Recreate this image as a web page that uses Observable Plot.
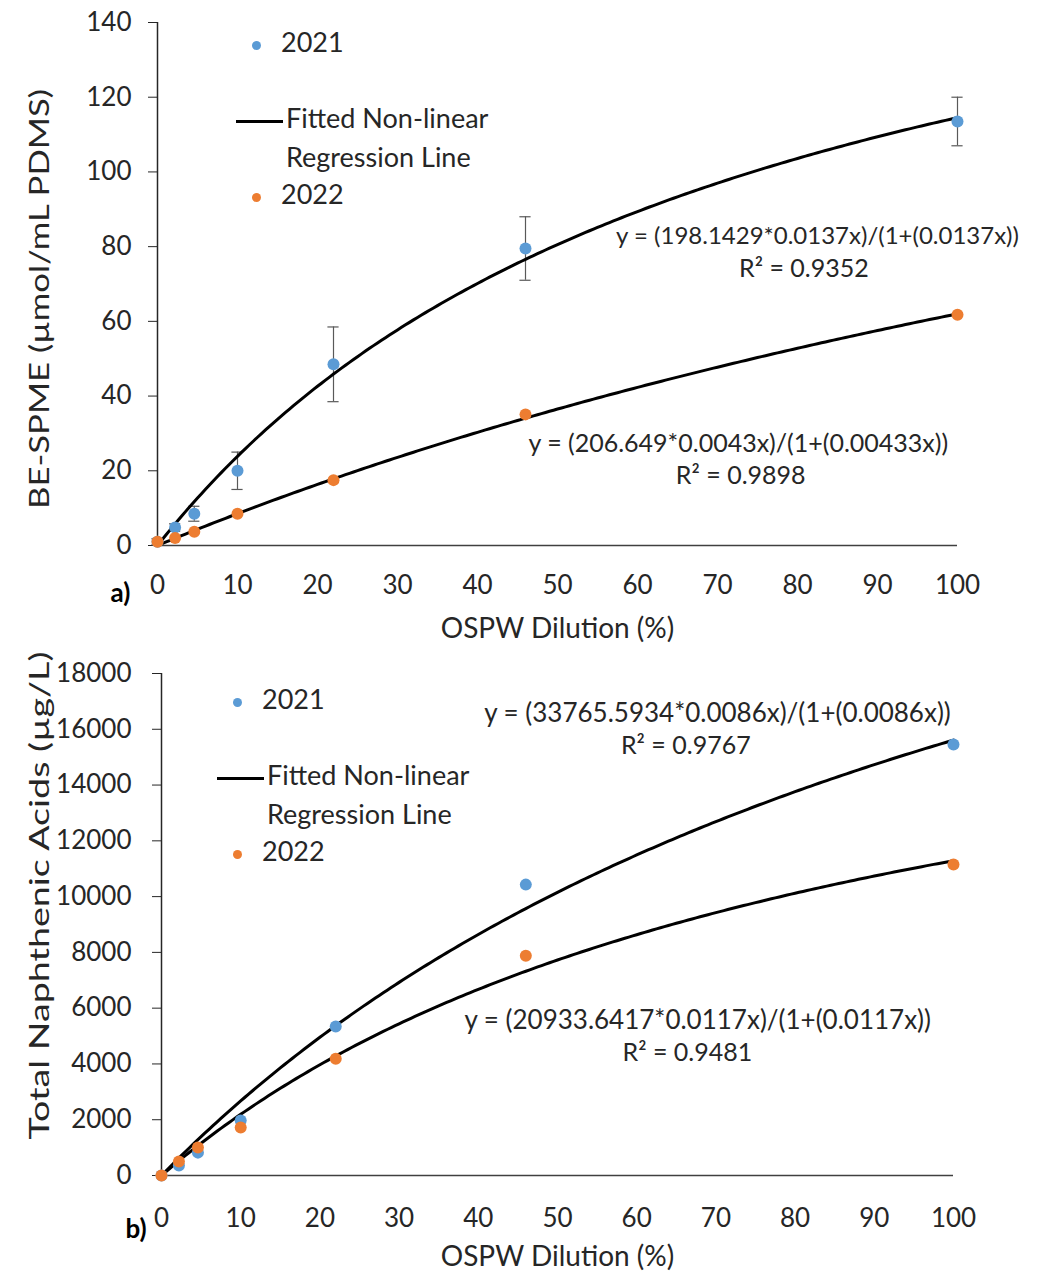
<!DOCTYPE html>
<html><head><meta charset="utf-8">
<script src="https://cdn.jsdelivr.net/npm/d3@7"></script>
<script src="https://cdn.jsdelivr.net/npm/@observablehq/plot@0.6"></script>
<style>
body{margin:0;background:#fff;font-family:Lato,"Noto Sans",sans-serif;}
#wrap{position:relative;width:1043px;height:1272px;overflow:hidden}
.plot{position:absolute;left:0}
.leg{position:absolute;font-size:27px;color:#262626;line-height:39px;white-space:nowrap}
.dot{display:inline-block;width:9px;height:9px;border-radius:50%;vertical-align:middle;margin-right:20px}
.ln{display:inline-block;width:47px;height:3px;background:#000;vertical-align:middle;margin-right:3px}
</style>
</head><body><div id="wrap"></div>
<script>
// ---- data ----
const dilution = [0, 2.2, 4.6, 10, 22, 46, 100];
const speme2021 = [1, 4.8, 8.5, 20, 48.5, 79.5, 113.5];
const speme2021Err = [0.8, 1, 2, 5, 10, 8.5, 6.5];
const speme2022 = [1, 2, 3.7, 8.5, 17.5, 35.1, 61.8];
const na2021 = [0, 360, 820, 1970, 5340, 10430, 15450];
const na2022 = [0, 500, 1000, 1720, 4190, 7880, 11150];
const xTicks = [0, 10, 20, 30, 40, 50, 60, 70, 80, 90, 100];
const yTicksA = [0, 20, 40, 60, 80, 100, 120, 140];
const yTicksB = [0, 2000, 4000, 6000, 8000, 10000, 12000, 14000, 16000, 18000];
// fitted equations as printed on the chart: y = (a*b*x)/(1+c*x)
const fitA2021 = {a: 198.1429, b: 0.0137, c: 0.0137, eq: "y = (198.1429*0.0137x)/(1+(0.0137x))", r2: "R² = 0.9352"};
const fitA2022 = {a: 206.649, b: 0.0043, c: 0.00433, eq: "y = (206.649*0.0043x)/(1+(0.00433x))", r2: "R² = 0.9898"};
const fitB2021 = {a: 33765.5934, b: 0.0086, c: 0.0086, eq: "y = (33765.5934*0.0086x)/(1+(0.0086x))", r2: "R² = 0.9767"};
const fitB2022 = {a: 20933.6417, b: 0.0117, c: 0.0117, eq: "y = (20933.6417*0.0117x)/(1+(0.0117x))", r2: "R² = 0.9481"};

const BLUE = "#5B9BD5", ORANGE = "#ED7D31";
const curve = f => d3.range(0, 100.001, 0.5).map(x => ({x, y: f.a * f.b * x / (1 + f.c * x)}));
const pts = ys => dilution.map((x, i) => ({x, y: ys[i]}));
const errs = dilution.map((x, i) => ({x, y: speme2021[i], lo: speme2021[i] - speme2021Err[i], hi: speme2021[i] + speme2021Err[i]}));

const font = "Lato, 'Noto Sans', sans-serif";

function panel(o) {
  const svg = Plot.plot({
    width: 1043, height: 636,
    marginLeft: o.ml, marginRight: o.mr, marginTop: o.mt, marginBottom: o.mb,
    x: {domain: [0, 100]},
    y: {domain: o.ydom},
    style: {fontFamily: font, fontSize: "26px", color: "#262626", background: "transparent", overflow: "visible"},
    marks: [
      Plot.axisX({ticks: xTicks, tickSize: 0, tickPadding: o.xpad, fontSize: 26, label: null, fill: "#262626"}),
      Plot.axisY({ticks: o.yticks, tickFormat: d3.format("d"), tickSize: 9, tickPadding: o.ypad, fontSize: 26, label: null, stroke: "#262626", fill: "#262626"}),
      Plot.ruleX([0], {stroke: "#262626", strokeWidth: 1.5}),
      Plot.ruleY([0], {stroke: "#404040", strokeWidth: 1.5}),
      ...o.extra,
      Plot.text([o.ylabel], {frameAnchor: "left", textAnchor: "middle", rotate: -90, dx: o.ydx, dy: o.ydy, fontSize: 26, fill: "#262626"}),
      Plot.text(["OSPW Dilution (%)"], {frameAnchor: "bottom", dy: o.xtdy, fontSize: 28, fill: "#262626"}),
      Plot.text([o.tag], {frameAnchor: "bottom-left", dx: o.tagdx, dy: o.tagdy, fontSize: 26, fontWeight: "bold", fill: "#000"})
    ]
  });
  // stretch the rotated y title to the reference's length
  svg.querySelectorAll("text").forEach(t => {
    if (t.textContent === o.ylabel) { t.setAttribute("textLength", o.ylen); t.setAttribute("lengthAdjust", "spacingAndGlyphs"); }
  });
  return svg;
}

const eqText = (x, y, t, fs) => Plot.text([t], {x: () => x, y: () => y, fontSize: fs, fill: "#262626"});

const plotA = panel({
  ml: 157, mr: 86, mt: 22, mb: 91, ydom: [0, 140], yticks: yTicksA, xpad: 30, ypad: 17,
  ylabel: "BE-SPME (µmol/mL PDMS)", ylen: 420, ydx: -117, ydy: 15, xtdy: 92, tag: "a)", tagdx: -47, tagdy: 56,
  extra: [
    Plot.ruleX(errs, {x: "x", y1: "lo", y2: "hi", stroke: "#595959", strokeWidth: 1.2}),
    Plot.ruleY(errs, {y: "hi", x1: d => d.x - 0.7, x2: d => d.x + 0.7, stroke: "#595959", strokeWidth: 1.2}),
    Plot.ruleY(errs, {y: "lo", x1: d => d.x - 0.7, x2: d => d.x + 0.7, stroke: "#595959", strokeWidth: 1.2}),
    Plot.line(curve(fitA2021), {x: "x", y: "y", stroke: "#000", strokeWidth: 3}),
    Plot.line(curve(fitA2022), {x: "x", y: "y", stroke: "#000", strokeWidth: 3}),
    Plot.dot(pts(speme2021), {x: "x", y: "y", r: 6, fill: BLUE}),
    Plot.dot(pts(speme2022), {x: "x", y: "y", r: 6, fill: ORANGE}),
    eqText(82.5, 82.7, fitA2021.eq, 24), eqText(80.8, 73.9, fitA2021.r2, 25),
    eqText(72.6, 27.3, fitA2022.eq, 25), eqText(72.9, 18.5, fitA2022.r2, 25)
  ]
});

const plotB = panel({
  ml: 161, mr: 90, mt: 37, mb: 97, ydom: [0, 18000], yticks: yTicksB, xpad: 33, ypad: 21,
  ylabel: "Total Naphthenic Acids (µg/L)", ylen: 488, ydx: -121, ydy: -29, xtdy: 90, tag: "b)", tagdx: -36, tagdy: 62,
  extra: [
    Plot.line(curve(fitB2021), {x: "x", y: "y", stroke: "#000", strokeWidth: 3}),
    Plot.line(curve(fitB2022), {x: "x", y: "y", stroke: "#000", strokeWidth: 3}),
    Plot.dot(pts(na2021), {x: "x", y: "y", r: 6, fill: BLUE}),
    Plot.dot(pts(na2022), {x: "x", y: "y", r: 6, fill: ORANGE}),
    eqText(70.2, 16560, fitB2021.eq, 26), eqText(66.2, 15410, fitB2021.r2, 25),
    eqText(67.7, 5555, fitB2022.eq, 26), eqText(66.4, 4410, fitB2022.r2, 25)
  ]
});

const wrap = document.getElementById("wrap");
plotA.classList.add("plot"); plotA.style.top = "0px";
plotB.classList.add("plot"); plotB.style.top = "636px";
wrap.appendChild(plotA); wrap.appendChild(plotB);

function legend(left, topPx, lineLeft) {
  const d = document.createElement("div");
  d.className = "leg";
  d.style.left = left + "px"; d.style.top = topPx + "px";
  d.innerHTML =
    `<div style="height:76px"><span class="dot" style="background:${BLUE}"></span>2021</div>` +
    `<div style="margin-left:${lineLeft}px"><span class="ln"></span>Fitted Non-linear</div>` +
    `<div style="margin-left:${lineLeft + 50}px;height:37px">Regression Line</div>` +
    `<div><span class="dot" style="background:${ORANGE}"></span>2022</div>`;
  wrap.appendChild(d);
}
legend(252, 22, -16);
legend(233, 679, -16);
</script>
</body></html>
